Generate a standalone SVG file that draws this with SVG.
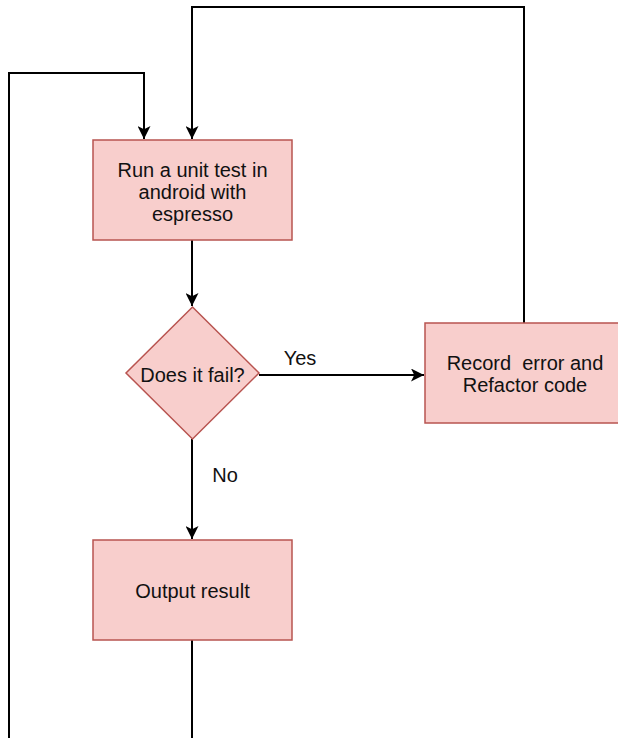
<svg xmlns="http://www.w3.org/2000/svg" width="618" height="738" viewBox="0 0 618 738">
  <style>
    .node { fill: #f8cecc; stroke: #b85450; stroke-width: 1.5; }
    .edge { fill: none; stroke: #000; stroke-width: 2; }
    .label { font-family: "Liberation Sans", Arial, Helvetica, sans-serif; font-size: 20px; fill: #111; text-anchor: middle; }
  </style>
  <defs>
    <marker id="arrow" viewBox="0 0 12 12" refX="12" refY="6" markerWidth="13" markerHeight="13" markerUnits="userSpaceOnUse" orient="auto">
      <path d="M0,0 L12,6 L0,12 L3,6 Z" fill="#000"/>
    </marker>
  </defs>
  <rect width="618" height="738" fill="#fff"/>

  <g id="connectors">
    <!-- loop back from the bottom into the test box -->
    <path class="edge" d="M9,738 V73 H144 V139" marker-end="url(#arrow)"/>
    <!-- loop back from refactor into the test box -->
    <path class="edge" d="M524,323 V7 H192 V139" marker-end="url(#arrow)"/>
    <path class="edge" d="M192,240 V306" marker-end="url(#arrow)"/>
    <path class="edge" d="M259,375 H424" marker-end="url(#arrow)"/>
    <path class="edge" d="M192,439 V539" marker-end="url(#arrow)"/>
    <path class="edge" d="M192,640 V738"/>
    <text class="label" x="300" y="365">Yes</text>
    <text class="label" x="225" y="482">No</text>
  </g>

  <g id="run-test">
    <rect class="node" x="93" y="140" width="199" height="100"/>
    <text class="label" x="192.5" y="177">Run a unit test in</text>
    <text class="label" x="192.5" y="199">android with</text>
    <text class="label" x="192.5" y="221">espresso</text>
  </g>

  <g id="does-it-fail">
    <polygon class="node" points="192.5,307 259,373 192.5,439 126,373"/>
    <text class="label" x="192.5" y="382">Does it fail?</text>
  </g>

  <g id="record-error">
    <rect class="node" x="425" y="323" width="195" height="100"/>
    <text class="label" x="525" y="370" xml:space="preserve">Record  error and</text>
    <text class="label" x="525" y="392">Refactor code</text>
  </g>

  <g id="output-result">
    <rect class="node" x="93" y="540" width="199" height="100"/>
    <text class="label" x="192.5" y="598">Output result</text>
  </g>
</svg>
